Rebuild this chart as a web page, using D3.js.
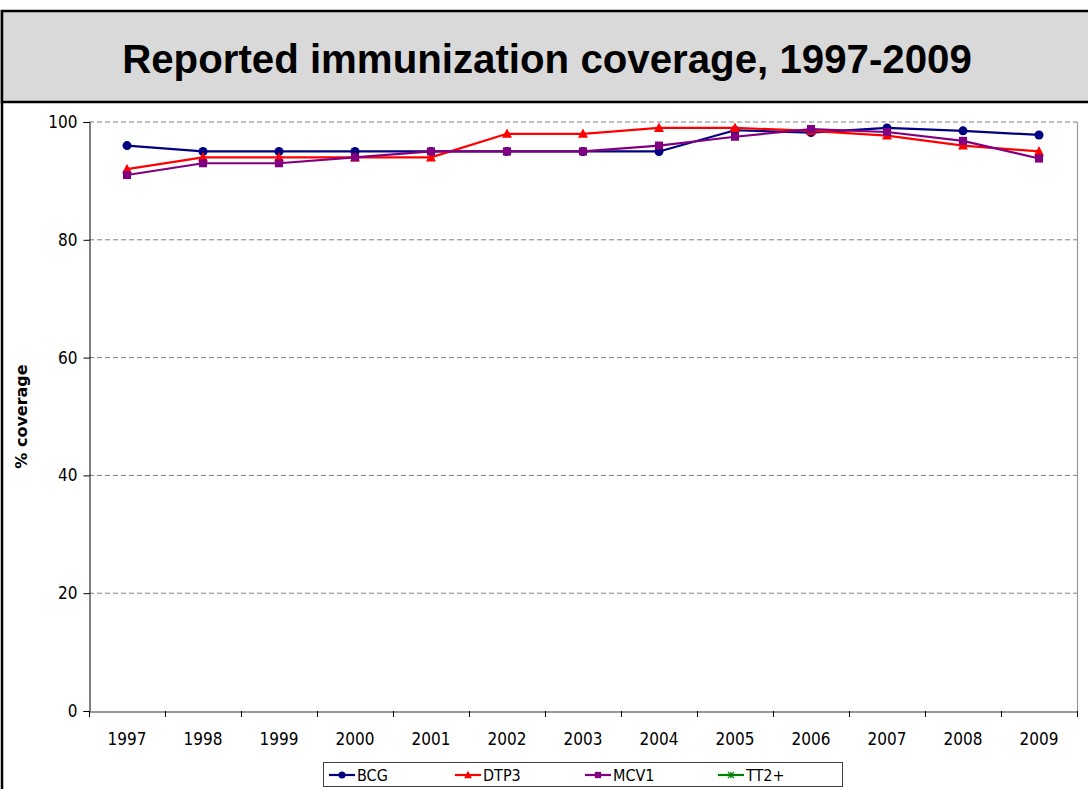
<!DOCTYPE html>
<html>
<head>
<meta charset="utf-8">
<script src="https://cdn.jsdelivr.net/npm/d3@7"></script>
<style>
html,body{margin:0;padding:0;background:#fff;}
svg{display:block;}
</style>
</head>
<body>
<svg id="chart" width="1088" height="789"></svg>
<script>
const years = ["1997","1998","1999","2000","2001","2002","2003","2004","2005","2006","2007","2008","2009"];
const bcg  = [96,95,95,95,95,95,95,95,98.6,98.2,99,98.5,97.8];
const dtp3 = [92,94,94,94,94,98,98,99,99,98.5,97.7,96,95];
const mcv1 = [91,93,93,94,95,95,95,96,97.5,98.8,98.3,96.8,93.8];
const tt2  = [];
const yTicks = [0,20,40,60,80,100];
const seriesNames = ["BCG","DTP3","MCV1","TT2+"];
const seriesColors = ["#000080","#ff0000","#800080","#008000"];
const seriesShapes = ["circle","triangle","square","star"];
const seriesData = [bcg, dtp3, mcv1, tt2];

const svg = d3.select("#chart");
const W = 1088, H = 789;
const plot = {left: 89, right: 1077, top: 122, bottom: 711};

// outer frame
svg.append("rect").attr("x",0).attr("y",0).attr("width",W).attr("height",H).attr("fill","#fff");
svg.append("line").attr("x1",2).attr("x2",2).attr("y1",10).attr("y2",H).attr("stroke","#000").attr("stroke-width",2.5);
// title box
svg.append("rect").attr("x",2).attr("y",11).attr("width",W+4).attr("height",91)
  .attr("fill","#d9d9d9").attr("stroke","#000").attr("stroke-width",2.5);
const title = svg.append("text").attr("x",547).attr("y",72.5).attr("text-anchor","middle")
  .attr("font-family","'Liberation Sans', Arial, sans-serif").attr("font-weight","bold")
  .attr("font-size",36).attr("fill","#000").text("Reported immunization coverage, 1997-2009");
const tl = title.node().getComputedTextLength();
title.attr("font-size", 36 * 850 / tl);

const x = d3.scaleBand().domain(years).range([plot.left, plot.right]);
const y = d3.scaleLinear().domain([0,100]).range([plot.bottom, plot.top]);

// gridlines
svg.append("g").selectAll("line").data(yTicks.filter(d=>d>0)).join("line")
  .attr("x1",plot.left).attr("x2",plot.right)
  .attr("y1",d=>y(d)).attr("y2",d=>y(d))
  .attr("stroke","#808080").attr("stroke-width",1).attr("stroke-dasharray","5,3");
// right border
svg.append("line").attr("x1",plot.right+0.5).attr("x2",plot.right+0.5).attr("y1",plot.top).attr("y2",plot.bottom)
  .attr("stroke","#999").attr("stroke-width",1.2);

const tickFont = "'DejaVu Sans Condensed', 'Noto Sans', sans-serif";
// y axis
const yAxis = d3.axisLeft(y).tickValues(yTicks).tickSize(6).tickPadding(6);
const gy = svg.append("g").attr("transform",`translate(${plot.left+0.5},0)`).call(yAxis);
gy.select(".domain").attr("stroke","#000");
gy.selectAll(".tick line").attr("stroke","#000");
gy.selectAll("text").attr("font-family",tickFont).attr("font-size",17).attr("fill","#000");

// x axis
const xAxis = d3.axisBottom(x).tickSize(0).tickPadding(21);
const gx = svg.append("g").attr("transform",`translate(0,${plot.bottom+0.5})`).call(xAxis);
gx.select(".domain").attr("stroke","#333").attr("stroke-width",1.2);
gx.selectAll("text").attr("font-family",tickFont).attr("font-size",17).attr("fill","#000");
// boundary ticks
const bounds = years.map(d=>x(d)).concat([x(years[years.length-1])+x.bandwidth()]);
svg.append("g").selectAll("line").data(bounds).join("line")
  .attr("x1",d=>d+0.5).attr("x2",d=>d+0.5).attr("y1",plot.bottom).attr("y2",plot.bottom+6)
  .attr("stroke","#000");

// y label
svg.append("text").attr("transform",`translate(27,${(plot.top+plot.bottom)/2}) rotate(-90)`)
  .attr("text-anchor","middle").attr("font-family","'DejaVu Sans', Verdana, sans-serif")
  .attr("font-weight","bold").attr("font-size",16).attr("fill","#000").text("% coverage");

function marker(g, shape, cx, cy, color, s) {
  if (shape === "circle") {
    g.append("circle").attr("cx",cx).attr("cy",cy).attr("r",s*0.5).attr("fill",color);
  } else if (shape === "triangle") {
    const h = s*1.0;
    g.append("path").attr("d",`M${cx},${cy-h*0.6}L${cx+s*0.55},${cy+h*0.45}L${cx-s*0.55},${cy+h*0.45}Z`).attr("fill",color);
  } else if (shape === "square") {
    g.append("rect").attr("x",cx-s*0.45).attr("y",cy-s*0.45).attr("width",s*0.9).attr("height",s*0.9).attr("fill",color);
  } else if (shape === "star") {
    const r = s*0.45;
    g.append("path").attr("d",`M${cx-r},${cy-r}L${cx+r},${cy+r}M${cx-r},${cy+r}L${cx+r},${cy-r}M${cx},${cy-r}L${cx},${cy+r}`)
      .attr("stroke",color).attr("stroke-width",1.2).attr("fill","none");
  }
}

const cxOf = i => x(years[i]) + x.bandwidth()/2;
const line = d3.line().x((d,i)=>cxOf(i)).y(d=>y(d));
seriesData.forEach((data, k) => {
  if (!data.length) return;
  const g = svg.append("g");
  g.append("path").datum(data).attr("d",line).attr("fill","none")
    .attr("stroke",seriesColors[k]).attr("stroke-width",2.2).attr("stroke-linejoin","round");
  data.forEach((v,i)=>marker(g, seriesShapes[k], cxOf(i), y(v), seriesColors[k], 9));
});

// legend
const lg = svg.append("g");
lg.append("rect").attr("x",323.5).attr("y",762.5).attr("width",519).attr("height",24)
  .attr("fill","#fff").attr("stroke","#404040").attr("stroke-width",1);
const legX = [329,455,585,718];
seriesNames.forEach((n,k)=>{
  const x0 = legX[k];
  lg.append("line").attr("x1",x0).attr("x2",x0+26).attr("y1",775).attr("y2",775)
    .attr("stroke",seriesColors[k]).attr("stroke-width",2.2);
  marker(lg, seriesShapes[k], x0+13, 775, seriesColors[k], 7);
  lg.append("text").attr("x",x0+28).attr("y",775).attr("dy","0.36em")
    .attr("font-family",tickFont).attr("font-size",16).attr("fill","#000").text(n);
});
</script>
</body>
</html>
